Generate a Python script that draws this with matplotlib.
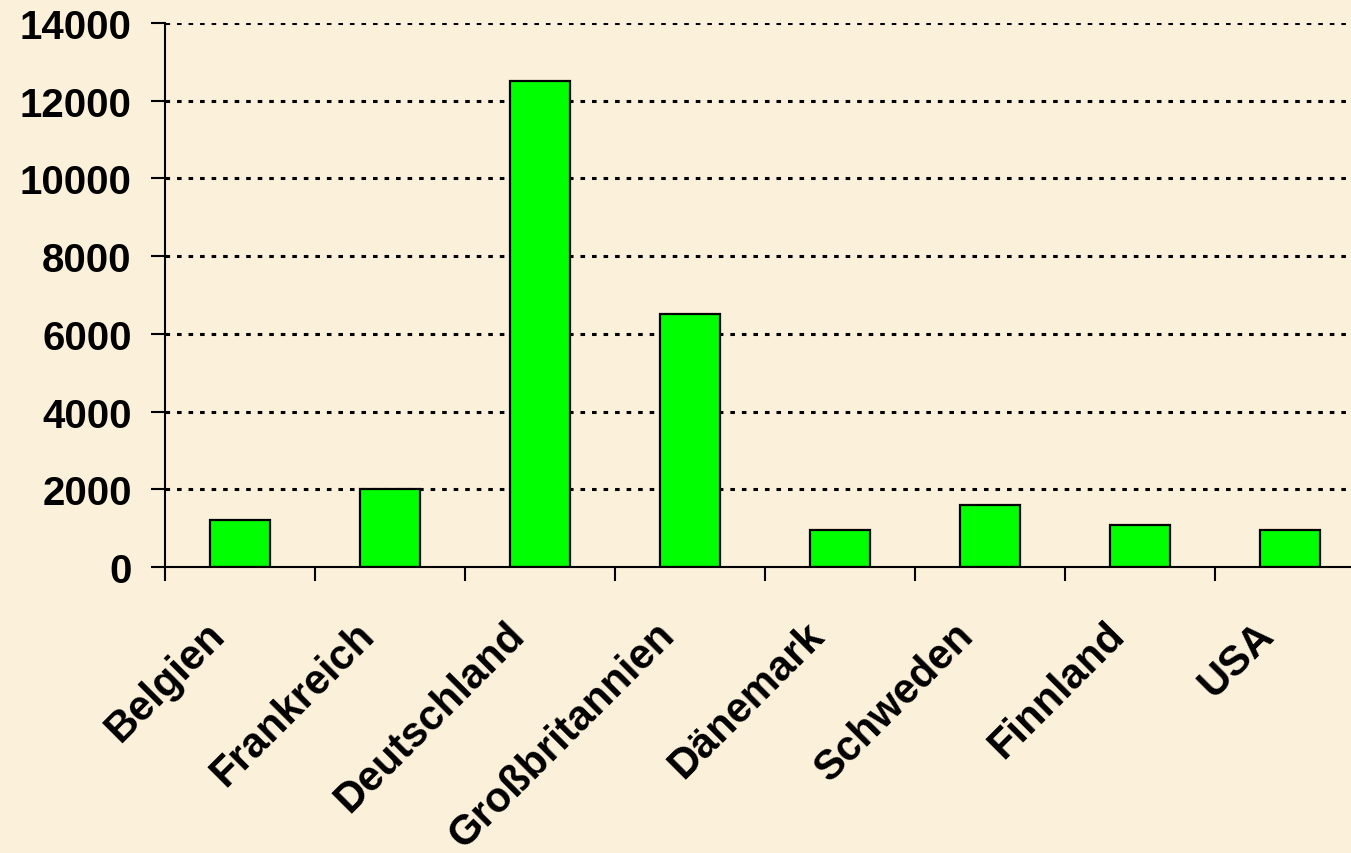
import matplotlib.pyplot as plt
from matplotlib.transforms import ScaledTranslation
import numpy as np

# Werte
countries = ['Belgien', 'Frankreich', 'Deutschland', 'Großbritannien',
             'Dänemark', 'Schweden', 'Finnland', 'USA']
values = [1200, 2000, 12500, 6500, 960, 1600, 1080, 960]
y_ticks = [0, 2000, 4000, 6000, 8000, 10000, 12000, 14000]

bg = '#FBF1DA'
plt.rcParams['font.family'] = ['Liberation Sans', 'DejaVu Sans']
plt.rcParams['font.weight'] = 'bold'
plt.rcParams['lines.scale_dashes'] = False

fig = plt.figure(figsize=(13.51, 8.54), dpi=100, facecolor=bg)
ax = fig.add_axes([165/1351, 1 - 568/854, 1200/1351, (568 - 24)/854])
ax.set_facecolor(bg)

x = np.arange(len(countries))
ax.bar(x, values, width=0.4, color='#00FF00', edgecolor='black',
       linewidth=1.6, zorder=3)

ax.set_xlim(-0.5, len(countries) - 0.5)
ax.set_ylim(0, 14000)
ax.set_yticks(y_ticks)
ax.set_yticklabels([str(v) for v in y_ticks], fontsize=29, fontweight='bold')
ax.tick_params(axis='y', direction='out', length=10, width=1.5, pad=14)

# Trennstriche zwischen den Kategorien, Beschriftung in der Mitte
ax.set_xticks(np.arange(len(countries)) - 0.5)
ax.set_xticklabels([])
ax.tick_params(axis='x', which='major', direction='out', length=10, width=1.5)
ax.set_xticks(x, minor=True)
ax.set_xticklabels(countries, minor=True, rotation=45, ha='right', va='top',
                   rotation_mode='anchor', fontsize=30, fontweight='bold')
ax.tick_params(axis='x', which='minor', length=0, pad=34)
for lbl in ax.get_xticklabels(minor=True):
    lbl.set_transform(lbl.get_transform() +
                      ScaledTranslation(-0.36, 0, fig.dpi_scale_trans))

for v in y_ticks[1:]:
    ax.axhline(v, color='black', linewidth=2.2, linestyle=(0, (3.3, 5.0)),
               zorder=1)

for s in ['top', 'right']:
    ax.spines[s].set_visible(False)
for s in ['left', 'bottom']:
    ax.spines[s].set_linewidth(1.5)
    ax.spines[s].set_zorder(4)

fig.savefig('out.png', dpi=100, facecolor=bg)
